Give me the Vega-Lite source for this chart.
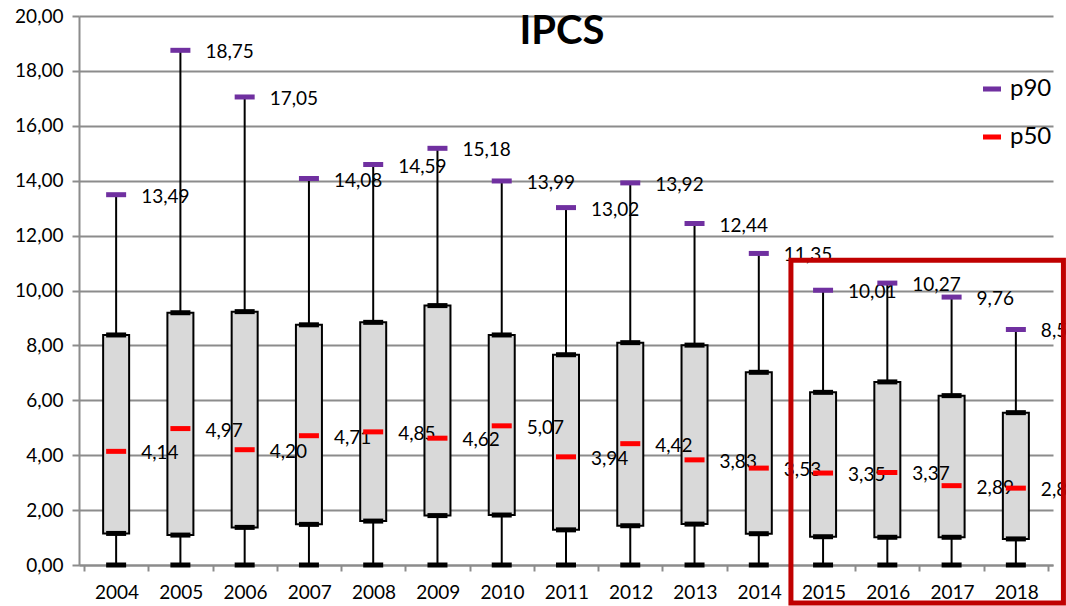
{
  "$schema": "https://vega.github.io/schema/vega-lite/v6.json",
  "width": 974,
  "height": 549,
  "autosize": {"type": "none"},
  "padding": {"left": 79, "top": 16, "right": 13, "bottom": 41},
  "background": "white",
  "config": {
    "view": {"stroke": null},
    "font": "Lato",
    "locale": {"number": {"decimal": ",", "thousands": ".", "grouping": [3], "currency": ["", " €"]}}
  },
  "title": {
    "text": "IPCS",
    "fontSize": 40,
    "fontWeight": "bold",
    "font": "Lato",
    "color": "black",
    "anchor": "middle",
    "baseline": "alphabetic",
    "offset": -77,
    "dx": -4
  },
  "datasets": {
    "stats": [
      {"year": 2004, "min": 0, "p25": 1.15, "p50": 4.14, "p75": 8.38, "p90": 13.49},
      {"year": 2005, "min": 0, "p25": 1.09, "p50": 4.97, "p75": 9.19, "p90": 18.75},
      {"year": 2006, "min": 0, "p25": 1.37, "p50": 4.20, "p75": 9.23, "p90": 17.05},
      {"year": 2007, "min": 0, "p25": 1.48, "p50": 4.71, "p75": 8.75, "p90": 14.08},
      {"year": 2008, "min": 0, "p25": 1.60, "p50": 4.85, "p75": 8.84, "p90": 14.59},
      {"year": 2009, "min": 0, "p25": 1.80, "p50": 4.62, "p75": 9.45, "p90": 15.18},
      {"year": 2010, "min": 0, "p25": 1.82, "p50": 5.07, "p75": 8.38, "p90": 13.99},
      {"year": 2011, "min": 0, "p25": 1.28, "p50": 3.94, "p75": 7.66, "p90": 13.02},
      {"year": 2012, "min": 0, "p25": 1.43, "p50": 4.42, "p75": 8.10, "p90": 13.92},
      {"year": 2013, "min": 0, "p25": 1.49, "p50": 3.83, "p75": 8.01, "p90": 12.44},
      {"year": 2014, "min": 0, "p25": 1.14, "p50": 3.53, "p75": 7.02, "p90": 11.35},
      {"year": 2015, "min": 0, "p25": 1.03, "p50": 3.35, "p75": 6.29, "p90": 10.01},
      {"year": 2016, "min": 0, "p25": 1.01, "p50": 3.37, "p75": 6.67, "p90": 10.27},
      {"year": 2017, "min": 0, "p25": 1.01, "p50": 2.89, "p75": 6.17, "p90": 9.76},
      {"year": 2018, "min": 0, "p25": 0.95, "p50": 2.80, "p75": 5.55, "p90": 8.58}
    ],
    "highlight": [
      {"from": 2014.5, "to": 2018.74, "low": -1.38, "high": 11.1}
    ]
  },
  "layer": [
    {
      "data": {"name": "stats"},
      "mark": {"type": "bar", "width": 26, "fill": "#d9d9d9", "stroke": "black", "strokeWidth": 2},
      "encoding": {
        "x": {
          "field": "year", "type": "quantitative",
          "scale": {"domain": [2003.5, 2018.5], "nice": false, "zero": false},
          "axis": {
            "title": null,
            "values": [2003.5, 2004.5, 2005.5, 2006.5, 2007.5, 2008.5, 2009.5, 2010.5, 2011.5, 2012.5, 2013.5, 2014.5, 2015.5, 2016.5, 2017.5, 2018.5],
            "labelExpr": "datum.value < 2018 ? format(datum.value + 0.5, 'd') : ''",
            "labelOffset": 32.5,
            "labelFlush": false,
            "labelOverlap": false,
            "labelFontSize": 19,
            "labelFont": "Lato",
            "labelColor": "black",
            "labelPadding": 12,
            "tickSize": 6,
            "tickColor": "#8c8c8c",
            "tickWidth": 2,
            "domainColor": "#8c8c8c",
            "domainWidth": 2,
            "grid": false
          }
        },
        "y": {
          "field": "p25", "type": "quantitative",
          "scale": {"domain": [0, 20], "nice": false, "zero": false},
          "axis": {
            "title": null,
            "values": [0, 2, 4, 6, 8, 10, 12, 14, 16, 18, 20],
            "format": ".2f",
            "grid": true,
            "gridColor": "#8c8c8c",
            "gridWidth": 2,
            "tickSize": 7,
            "tickColor": "#8c8c8c",
            "tickWidth": 2,
            "domainColor": "#8c8c8c",
            "domainWidth": 2,
            "labelFontSize": 19,
            "labelFont": "Lato",
            "labelColor": "black",
            "labelPadding": 9
          }
        },
        "y2": {"field": "p75"}
      }
    },
    {
      "data": {"name": "stats"},
      "mark": {"type": "text", "align": "left", "baseline": "middle", "dx": 25, "dy": 2, "fontSize": 19, "font": "Lato", "color": "black"},
      "encoding": {
        "x": {"field": "year", "type": "quantitative"},
        "y": {"field": "p90", "type": "quantitative"},
        "text": {"field": "p90", "type": "quantitative", "format": ".2f"}
      }
    },
    {
      "data": {"name": "stats"},
      "mark": {"type": "text", "align": "left", "baseline": "middle", "dx": 25, "dy": 2, "fontSize": 19, "font": "Lato", "color": "black"},
      "encoding": {
        "x": {"field": "year", "type": "quantitative"},
        "y": {"field": "p50", "type": "quantitative"},
        "text": {"field": "p50", "type": "quantitative", "format": ".2f"}
      }
    },
    {
      "data": {"name": "stats"},
      "mark": {"type": "rule", "color": "black", "strokeWidth": 2},
      "encoding": {
        "x": {"field": "year", "type": "quantitative"},
        "y": {"field": "min", "type": "quantitative"},
        "y2": {"field": "p25"}
      }
    },
    {
      "data": {"name": "stats"},
      "mark": {"type": "rule", "color": "black", "strokeWidth": 2},
      "encoding": {
        "x": {"field": "year", "type": "quantitative"},
        "y": {"field": "p75", "type": "quantitative"},
        "y2": {"field": "p90"}
      }
    },
    {
      "data": {"name": "stats"},
      "transform": [{"fold": ["min", "p25", "p75"], "as": ["edge", "value"]}],
      "mark": {"type": "tick", "orient": "horizontal", "size": 20, "thickness": 5, "color": "black", "opacity": 1},
      "encoding": {
        "x": {"field": "year", "type": "quantitative"},
        "y": {"field": "value", "type": "quantitative"}
      }
    },
    {
      "data": {"name": "stats"},
      "transform": [{"fold": ["p90", "p50"], "as": ["stat", "value"]}],
      "mark": {"type": "tick", "orient": "horizontal", "size": 20, "thickness": 5, "opacity": 1},
      "encoding": {
        "x": {"field": "year", "type": "quantitative"},
        "y": {"field": "value", "type": "quantitative"},
        "color": {
          "field": "stat", "type": "nominal",
          "scale": {"domain": ["p90", "p50"], "range": ["#7030A0", "#FF0000"]},
          "legend": {
            "title": null,
            "orient": "none",
            "legendX": 901,
            "legendY": 61,
            "symbolType": "M-1,-0.28H1V0.28H-1Z",
            "symbolSize": 324,
            "symbolStrokeWidth": 0,
            "symbolOpacity": 1,
            "labelFontSize": 24,
            "labelFont": "Lato",
            "labelColor": "black",
            "labelOffset": 6,
            "rowPadding": 24
          }
        }
      }
    },
    {
      "data": {"name": "highlight"},
      "mark": {"type": "rect", "fill": null, "fillOpacity": 0, "stroke": "#C00000", "strokeWidth": 5},
      "encoding": {
        "x": {"field": "from", "type": "quantitative"},
        "x2": {"field": "to"},
        "y": {"field": "low", "type": "quantitative"},
        "y2": {"field": "high"}
      }
    }
  ]
}
